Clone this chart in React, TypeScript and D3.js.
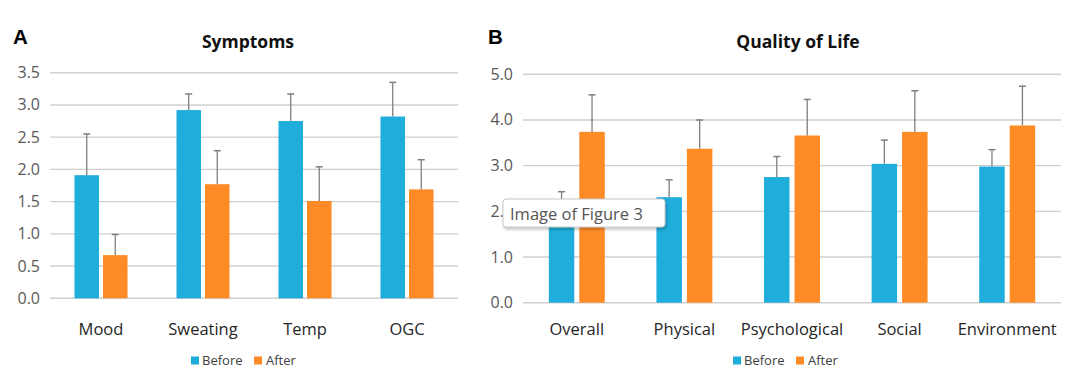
import React from "react";
import * as d3 from "d3";

const seriesNames = ["Before", "After"];
const colors = ["#1FADDC", "#FF8B26"];

// Panel A: Symptoms
const symptomCats = ["Mood", "Sweating", "Temp", "OGC"];
const symptomBefore = [1.91, 2.92, 2.75, 2.82];
const symptomBeforeErr = [2.55, 3.17, 3.17, 3.35];
const symptomAfter = [0.67, 1.77, 1.51, 1.69];
const symptomAfterErr = [0.99, 2.29, 2.04, 2.15];
const symptomTicks = [0, 0.5, 1.0, 1.5, 2.0, 2.5, 3.0, 3.5];

// Panel B: Quality of Life
const qolCats = ["Overall", "Physical", "Psychological", "Social", "Environment"];
const qolBefore = [2.02, 2.31, 2.75, 3.04, 2.98];
const qolBeforeErr = [2.43, 2.69, 3.2, 3.56, 3.35];
const qolAfter = [3.74, 3.37, 3.66, 3.74, 3.88];
const qolAfterErr = [4.55, 4.0, 4.45, 4.64, 4.74];
const qolTicks = [0, 1.0, 2.0, 3.0, 4.0, 5.0];

const FONT = "'Open Sans', 'DejaVu Sans', sans-serif";

type PanelProps = {
  letter: string;
  letterX: number;
  title: string;
  titleX: number;
  cats: string[];
  values: number[][];
  errs: number[][];
  ticks: number[];
  yMax: number;
  x0: number;
  x1: number;
  y0: number;
  y1: number;
  innerPad: number;
  legendX: number;
};

function Panel(p: PanelProps) {
  const x = d3.scaleBand<string>().domain(p.cats).range([p.x0, p.x1]).paddingInner(0.48).paddingOuter(0.24);
  const xi = d3.scaleBand<string>().domain(seriesNames).range([0, x.bandwidth()]).paddingInner(p.innerPad);
  const y = d3.scaleLinear().domain([0, p.yMax]).range([p.y0, p.y1]);
  const bw = xi.bandwidth();
  return (
    <g>
      <text x={p.letterX} y={44} fontFamily="'Liberation Sans', Arial, sans-serif" fontWeight="bold" fontSize={20.5} fill="#000">
        {p.letter}
      </text>
      <text x={p.titleX} y={48} textAnchor="middle" fontFamily={FONT} fontWeight="bold" fontSize={17.5} fill="#111">
        {p.title}
      </text>
      {p.ticks.map((t) => (
        <g key={t}>
          <line x1={p.x0} x2={p.x1} y1={y(t)} y2={y(t)} stroke="#cfcfcf" strokeWidth={1.4} />
          <text x={p.x0 - 10} y={y(t) + 5.5} textAnchor="end" fontFamily={FONT} fontSize={16} fill="#595959">
            {d3.format(".1f")(t)}
          </text>
        </g>
      ))}
      {p.cats.map((c, i) => (
        <g key={c}>
          {seriesNames.map((s, si) => {
            const bx = (x(c) as number) + (xi(s) as number);
            const v = p.values[si][i];
            const e = p.errs[si][i];
            const cx = bx + bw / 2;
            return (
              <g key={s}>
                <rect x={bx} y={y(v)} width={bw} height={y(0) - y(v)} fill={colors[si]} />
                <line x1={cx} x2={cx} y1={y(e)} y2={y(v)} stroke="#7f7f7f" strokeWidth={1.3} />
                <line x1={cx - 3.5} x2={cx + 3.5} y1={y(e)} y2={y(e)} stroke="#7f7f7f" strokeWidth={1.5} />
              </g>
            );
          })}
          <text x={(x(c) as number) + x.bandwidth() / 2} y={335} textAnchor="middle" fontFamily={FONT} fontSize={16.5} fill="#262626">
            {c}
          </text>
        </g>
      ))}
      <g transform={`translate(${p.legendX},0)`}>
        <rect x={0} y={356.5} width={8} height={8} fill={colors[0]} />
        <text x={11} y={365} fontFamily={FONT} fontSize={13} fill="#404040">Before</text>
        <rect x={63} y={356.5} width={8} height={8} fill={colors[1]} />
        <text x={75} y={365} fontFamily={FONT} fontSize={13} fill="#404040">After</text>
      </g>
    </g>
  );
}

export default function App() {
  return (
    <svg width={1080} height={375} style={{ position: "absolute", left: 0, top: 0, background: "#fff" }}>
      <defs>
        <filter id="shadow" x="-10%" y="-30%" width="130%" height="180%">
          <feDropShadow dx="1" dy="2" stdDeviation="1.5" floodColor="#000" floodOpacity="0.25" />
        </filter>
      </defs>
      <rect x={0} y={0} width={1080} height={375} fill="#fff" />
      <Panel
        letter="A"
        letterX={13}
        title="Symptoms"
        titleX={248}
        cats={symptomCats}
        values={[symptomBefore, symptomAfter]}
        errs={[symptomBeforeErr, symptomAfterErr]}
        ticks={symptomTicks}
        yMax={3.5}
        x0={50}
        x1={458}
        y0={298.3}
        y1={72.7}
        innerPad={0.14}
        legendX={191}
      />
      <Panel
        letter="B"
        letterX={488}
        title="Quality of Life"
        titleX={798}
        cats={qolCats}
        values={[qolBefore, qolAfter]}
        errs={[qolBeforeErr, qolAfterErr]}
        ticks={qolTicks}
        yMax={5}
        x0={523}
        x1={1061}
        y0={302.7}
        y1={74.3}
        innerPad={0.164}
        legendX={733}
      />
      <g>
        <rect x={503} y={199} width={162} height={28} rx={3} fill="#fff" stroke="#c8c8c8" strokeWidth={1} filter="url(#shadow)" />
        <text x={510} y={219.5} fontFamily={FONT} fontSize={16.5} fill="#555">Image of Figure 3</text>
      </g>
    </svg>
  );
}
